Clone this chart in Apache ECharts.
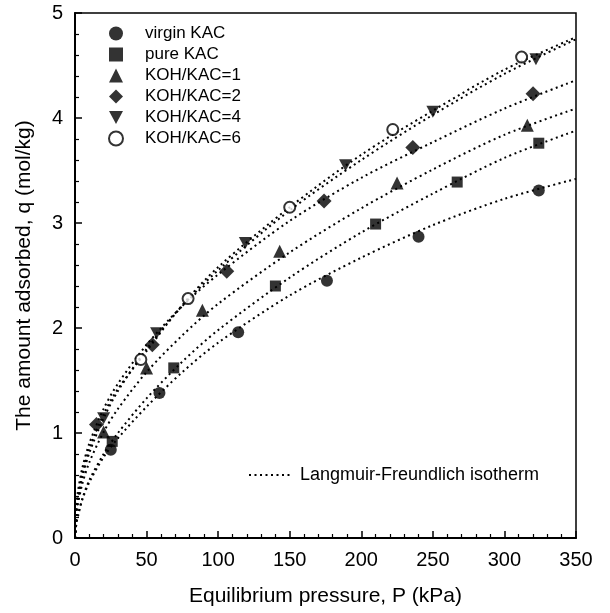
<!DOCTYPE html>
<html>
<head>
<meta charset="utf-8">
<script src="https://cdn.jsdelivr.net/npm/echarts@6/dist/echarts.min.js"></script>
<style>
  html, body { margin: 0; padding: 0; background: #fff; }
  #chart { width: 610px; height: 613px; }
</style>
</head>
<body>
<div id="chart"></div>
<script>
// Measured adsorption points: pressure P (kPa) and amount adsorbed q (mol/kg)
const virginP = [25, 59, 114, 176, 240, 324];
const virginQ = [0.84, 1.38, 1.96, 2.45, 2.87, 3.31];

const pureP = [26, 69, 140, 210, 267, 324];
const pureQ = [0.92, 1.62, 2.40, 2.99, 3.39, 3.76];

const koh1P = [20, 50, 89, 143, 225, 316];
const koh1Q = [1.01, 1.62, 2.17, 2.73, 3.38, 3.93];

const koh2P = [15, 54, 106, 174, 236, 320];
const koh2Q = [1.08, 1.84, 2.54, 3.21, 3.72, 4.23];

const koh4P = [20, 57, 119, 189, 250, 322];
const koh4Q = [1.14, 1.95, 2.81, 3.55, 4.06, 4.56];

const koh6P = [46, 79, 150, 222, 312];
const koh6Q = [1.70, 2.28, 3.15, 3.89, 4.58];

// Langmuir-Freundlich isotherm curves, sampled along the pressure axis
const fitP = [0, 1, 2, 5, 10, 20, 30, 50, 75, 100, 150, 200, 250, 300, 350];
const fitVirgin = [0, 0.14, 0.20, 0.36, 0.53, 0.77, 0.95, 1.25, 1.58, 1.86, 2.31, 2.67, 2.98, 3.23, 3.42];
const fitPure   = [0, 0.15, 0.22, 0.37, 0.55, 0.80, 1.00, 1.33, 1.68, 1.98, 2.48, 2.91, 3.28, 3.62, 3.88];
const fitKoh1   = [0, 0.23, 0.32, 0.51, 0.72, 1.01, 1.23, 1.58, 1.93, 2.23, 2.72, 3.14, 3.51, 3.84, 4.09];
const fitKoh2   = [0, 0.32, 0.44, 0.66, 0.90, 1.23, 1.47, 1.84, 2.21, 2.51, 3.02, 3.43, 3.77, 4.09, 4.36];
const fitKoh4   = [0, 0.26, 0.36, 0.57, 0.81, 1.14, 1.40, 1.80, 2.21, 2.55, 3.12, 3.60, 4.03, 4.42, 4.75];
const fitKoh6   = [0, 0.27, 0.37, 0.60, 0.85, 1.18, 1.42, 1.78, 2.22, 2.58, 3.15, 3.65, 4.07, 4.46, 4.77];

const seriesNames = ['virgin KAC', 'pure KAC', 'KOH/KAC=1', 'KOH/KAC=2', 'KOH/KAC=4', 'KOH/KAC=6'];
const fitName = 'Langmuir-Freundlich isotherm';

// Axis tick values
const xTicks = [0, 50, 100, 150, 200, 250, 300, 350];
const yTicks = [0, 1, 2, 3, 4, 5];

const FONT = 'Liberation Sans, Arial, sans-serif';

function pairs(xs, ys) { return xs.map((x, i) => [x, ys[i]]); }

const downTriangle = 'path://M0,0 L12,0 L6,11 Z';

const markerSeries = [
  { name: seriesNames[0], symbol: 'circle', symbolSize: 12, data: pairs(virginP, virginQ) },
  { name: seriesNames[1], symbol: 'rect', symbolSize: 11, data: pairs(pureP, pureQ) },
  { name: seriesNames[2], symbol: 'triangle', symbolSize: 13, data: pairs(koh1P, koh1Q) },
  { name: seriesNames[3], symbol: 'diamond', symbolSize: 15, data: pairs(koh2P, koh2Q) },
  { name: seriesNames[4], symbol: downTriangle, symbolSize: [13, 12], data: pairs(koh4P, koh4Q) },
  { name: seriesNames[5], symbol: 'emptyCircle', symbolSize: 11, data: pairs(koh6P, koh6Q) }
].map(s => Object.assign({
  type: 'scatter',
  z: 5,
  itemStyle: s.symbol === 'emptyCircle'
    ? { color: '#000', borderColor: '#000', borderWidth: 1.6 }
    : { color: '#000' }
}, s));

const fitSeries = [fitVirgin, fitPure, fitKoh1, fitKoh2, fitKoh4, fitKoh6].map(q => ({
  type: 'line',
  name: fitName,
  data: pairs(fitP, q),
  smooth: 0.3,
  symbol: 'none',
  z: 3,
  itemStyle: { color: '#000' },
  lineStyle: { color: '#000', width: 2, type: [2, 3.5] }
}));

const axisText = { color: '#000', fontFamily: FONT, fontSize: 20 };
const titleText = { color: '#000', fontFamily: FONT, fontSize: 21 };

const option = {
  animation: false,
  backgroundColor: '#fff',
  grid: {
    left: 75, right: 34, top: 13, bottom: 75,
    show: true, borderColor: '#000', borderWidth: 1.5, backgroundColor: 'transparent'
  },
  legend: [
    {
      data: seriesNames,
      orient: 'vertical',
      left: 103, top: 20,
      itemWidth: 14, itemHeight: 14, itemGap: 4,
      textStyle: { color: '#000', fontFamily: FONT, fontSize: 17, padding: [0, 0, 0, 17] },
      selectedMode: false
    },
    {
      data: [fitName],
      left: 243, top: 461,
      itemWidth: 44, itemHeight: 14,
      itemStyle: { opacity: 0 },
      lineStyle: { color: '#000', width: 2, type: [2, 3.5] },
      textStyle: { color: '#000', fontFamily: FONT, fontSize: 18, padding: [0, 0, 0, 2] },
      selectedMode: false
    }
  ],
  xAxis: {
    type: 'value',
    min: xTicks[0], max: xTicks[xTicks.length - 1], interval: 50,
    name: 'Equilibrium pressure, P (kPa)',
    nameLocation: 'middle', nameGap: 48,
    nameTextStyle: titleText,
    axisLine: { show: true, lineStyle: { color: '#000', width: 2 } },
    axisTick: { show: true, inside: true, length: 7, lineStyle: { color: '#000', width: 1.5 } },
    minorTick: { show: true, splitNumber: 5, length: 4, lineStyle: { color: '#000', width: 1.2 } },
    axisLabel: Object.assign({ margin: 12 }, axisText),
    splitLine: { show: false }
  },
  yAxis: {
    type: 'value',
    min: yTicks[0], max: yTicks[yTicks.length - 1], interval: 1,
    name: 'The amount adsorbed, q (mol/kg)',
    nameLocation: 'middle', nameGap: 40,
    nameTextStyle: titleText,
    axisLine: { show: true, lineStyle: { color: '#000', width: 2 } },
    axisTick: { show: true, inside: true, length: 7, lineStyle: { color: '#000', width: 1.5 } },
    minorTick: { show: true, splitNumber: 5, length: 4, lineStyle: { color: '#000', width: 1.2 } },
    axisLabel: Object.assign({ margin: 12 }, axisText),
    splitLine: { show: false }
  },
  series: fitSeries.concat(markerSeries)
};

const chart = echarts.init(document.getElementById('chart'), null, { renderer: 'canvas' });
chart.setOption(option);
</script>
</body>
</html>
